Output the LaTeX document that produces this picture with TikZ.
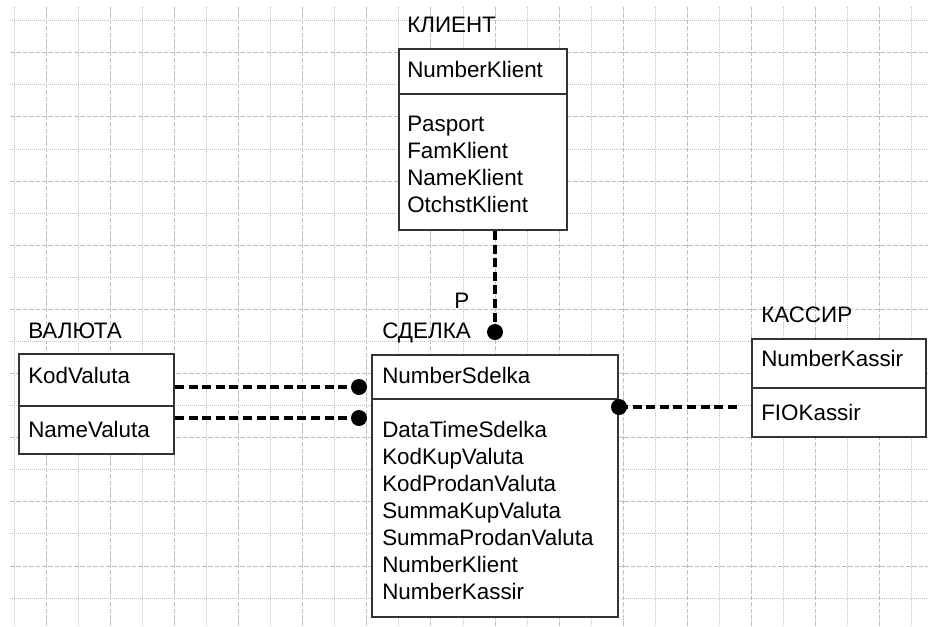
\documentclass[tikz,border=0pt]{standalone}
\usepackage{fontspec}
\setmainfont{Liberation Sans}
\usetikzlibrary{fit}
\begin{document}
\begin{tikzpicture}[x=0.75pt,y=-0.75pt,
  gridA/.style={gray!50, line width=0.75pt, dash pattern=on 0.75pt off 0.75pt},
  gridB/.style={gray!50, line width=0.75pt, dash pattern=on 3.5pt off 1.3pt},
  box/.style={draw=black!80, fill=white, line width=1.4pt, inner sep=0pt},
  sep/.style={draw=black!80, line width=1.4pt},
  txt/.style={inner sep=0pt, anchor=base west, font=\fontsize{16.8}{20.2}\selectfont},
  rel/.style={line width=2.3pt, dash pattern=on 6.8pt off 3.4pt},
  dot/.style={circle, fill=black, minimum size=12pt, inner sep=0pt}]
% canvas
\fill[white] (0,0) rectangle (928,626);
\useasboundingbox (0,0) rectangle (928,626);
% grid
\foreach \m in {0,...,14}{\draw[gridA] ({14.3+64.1*\m},7) -- ({14.3+64.1*\m},626);}
\foreach \m in {0,...,13}{\draw[gridB] ({46.35+64.1*\m},7) -- ({46.35+64.1*\m},626);}
\foreach \m in {0,...,9}{\draw[gridA] (10,{20.7+64.16*\m}) -- (928,{20.7+64.16*\m});}
\foreach \m in {0,...,8}{\draw[gridB] (10,{52.8+64.16*\m}) -- (928,{52.8+64.16*\m});}

% KLIENT
\node[box, fit={(399,49) (567,230)}] (klient) {};
\draw[sep] (klient.west |- 0,94) -- (klient.east |- 0,94);
\node[txt] (klientT) at (407,32) {КЛИЕНТ};
\node[txt] (klientK) at (407,77) {NumberKlient};
\node[txt] (klientA) at (407,131.7) {\begin{tabular}[t]{@{}l@{}}Pasport\\FamKlient\\NameKlient\\OtchstKlient\end{tabular}};

% SDELKA
\node[box, fit={(372,355) (618,617)}] (sdelka) {};
\draw[sep] (sdelka.west |- 0,399) -- (sdelka.east |- 0,399);
\node[txt] (sdelkaT) at (382,338) {СДЕЛКА};
\node[txt] (sdelkaK) at (382,383) {NumberSdelka};
\node[txt] (sdelkaA) at (382,437.7) {\begin{tabular}[t]{@{}l@{}}DataTimeSdelka\\KodKupValuta\\KodProdanValuta\\SummaKupValuta\\SummaProdanValuta\\NumberKlient\\NumberKassir\end{tabular}};

% KASSIR
\node[box, fit={(752,339) (926,437)}] (kassir) {};
\draw[sep] (kassir.west |- 0,388) -- (kassir.east |- 0,388);
\node[txt] (kassirT) at (761,322) {КАССИР};
\node[txt] (kassirK) at (761,366) {NumberKassir};
\node[txt] (kassirA) at (761,420) {FIOKassir};

% VALUTA
\node[box, fit={(19,354) (174,454)}] (valuta) {};
\draw[sep] (valuta.west |- 0,406) -- (valuta.east |- 0,406);
\node[txt] (valutaT) at (28,338) {ВАЛЮТА};
\node[txt] (valutaK) at (28,383) {KodValuta};
\node[txt] (valutaA) at (28,437) {NameValuta};

% relationship ends
\node[dot] (kdot) at (495,332) {};
\node[dot] (vdot1) at (359,387) {};
\node[dot] (vdot2) at (359,418) {};
\node[dot] (sdot) at (619,407) {};
\coordinate (send) at (740,407);
\node[txt] (plabel) at (454,308) {P};

\draw[rel] (kdot |- klient.south) -- (kdot.center);
\draw[rel] (valuta.east |- vdot1) -- (vdot1.center);
\draw[rel] (valuta.east |- vdot2) -- (vdot2.center);
\draw[rel] (sdot.center) -- (send);
\end{tikzpicture}
\end{document}
